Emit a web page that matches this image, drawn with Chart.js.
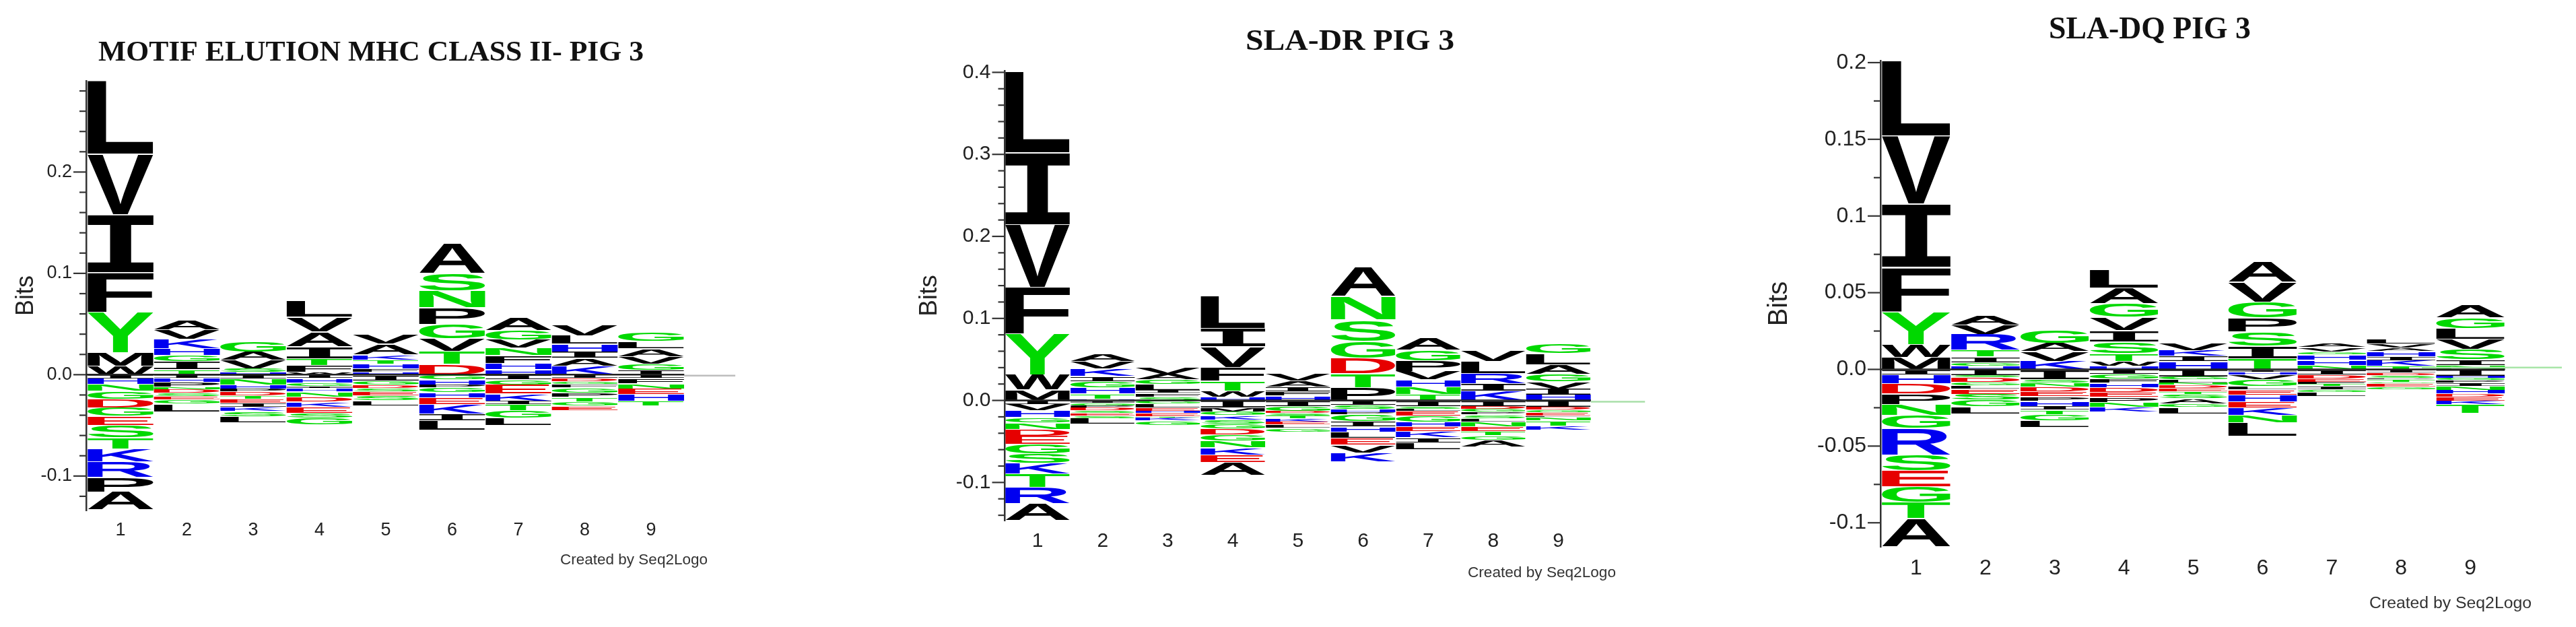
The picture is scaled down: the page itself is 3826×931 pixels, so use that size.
<!DOCTYPE html>
<html>
<head>
<meta charset="utf-8">
<title>Seq2Logo motifs PIG 3</title>
<script src="https://cdn.jsdelivr.net/npm/chart.js@4"></script>
<style>
  html, body { margin: 0; padding: 0; background: #fff; }
  canvas { position: absolute; top: 0; }
</style>
</head>
<body>
<canvas id="logoAll"></canvas>
<canvas id="logoDr"></canvas>
<canvas id="logoDq"></canvas>
<script>
// Values. Each stack runs from the zero line outwards.
const positions = ['1', '2', '3', '4', '5', '6', '7', '8', '9'];

const allTickLabels = ['-0.1', '0.0', '0.1', '0.2'];
const drTickLabels = ['-0.1', '0.0', '0.1', '0.2', '0.3', '0.4'];
const dqTickLabels = ['-0.1', '-0.05', '0.0', '0.05', '0.1', '0.15', '0.2'];

// MOTIF ELUTION
const allUpLetters = ['WMYFIVL', 'TIGHKVA', 'HSVAG', 'WFTIAVL', 'HFHTKAV', 'DTVGPNSA', 'HHFNVGA', 'KAIHLV', 'IGVALG'];
const allUpBits = [
  [.0088, .0132, .0395, .0395, .057, .0595, .0725],
  [.0049, .0084, .006, .0066, .0089, .0095, .0093],
  [.0022, .0038, .0082, .0084, .01],
  [.0024, .0066, .0071, .0117, .0148, .0144, .0163],
  [.0024, .0033, .0051, .0038, .0051, .0104, .0095],
  [.0104, .0124, .0128, .0144, .0162, .0166, .0171, .0299],
  [.0051, .0062, .0075, .0073, .008, .0097, .0128],
  [.0084, .0078, .0062, .0078, .0082, .0106],
  [.0047, .0058, .0075, .0078, .0071, .0089]
];
const allDownLetters = ['IHNGDGESTKRPA', 'IHPNDSEGL', 'INHPDTEIKSL', 'IHGIHNDKESG', 'IGDSESL', 'GHPGHEKIL', 'IGEKITGL', 'IDGFGPTGE', 'IFNEHT'];
const allDownBits = [
  [.004, .0055, .0066, .008, .0086, .0084, .0086, .0122, .0111, .0128, .0155, .0146, .0175],
  [.0035, .0038, .0051, .0022, .0038, .0033, .0033, .004, .0075],
  [.004, .006, .004, .0029, .0038, .0035, .0038, .004, .0042, .0049, .0062],
  [.0038, .0044, .0031, .0022, .0035, .0049, .0049, .0051, .006, .0047, .0071],
  [.006, .0044, .0033, .0033, .0038, .0049, .0047],
  [.0047, .0051, .0031, .0047, .0051, .0066, .0093, .0066, .0093],
  [.0049, .0051, .0089, .0069, .0038, .0058, .0075, .0073],
  [.0038, .0033, .0022, .0035, .0053, .0042, .0044, .0042, .0044],
  [.0038, .0053, .0047, .0055, .0066, .0049]
];

// SLA-DR
const drUpLetters = ['MWYFVIL', 'HTHGIKVA', 'SFILGAV', 'HWTFVIL', 'HFIAV', 'PTDGSNA', 'TNHVPGA', 'KIRLV', 'HIVGALG'];
const drUpBits = [
  [.0128, .0183, .05, .0567, .0769, .0878, .0986],
  [.002, .0065, .007, .0075, .0063, .009, .009, .009],
  [.0045, .0045, .0035, .0068, .006, .0071, .0082],
  [.0044, .0073, .0118, .0167, .0253, .0225, .04],
  [.0055, .0055, .0055, .0075, .0088],
  [.0156, .0172, .0188, .0205, .0262, .0284, .0363],
  [.0071, .0093, .0087, .0101, .0131, .0131, .015],
  [.0115, .009, .0123, .0147, .0139],
  [.0068, .0075, .0082, .0095, .0115, .0135, .0117]
];
const drDownLetters = ['IVHGNDEGSKTRA', 'IGPDSESL', 'GLEHETKG', 'IMGKSGDGNKEA', 'IGDSTKELG', 'ISHPGIHLEVK', 'ISLEGHEKIL', 'IDGPSLNETGA', 'IDGELNTK'];
const drDownBits = [
  [.005, .0077, .0082, .0066, .0077, .0082, .0101, .0112, .0115, .0131, .0164, .0202, .0207],
  [.003, .0035, .0027, .0035, .003, .003, .0035, .0068],
  [.004, .005, .004, .0025, .004, .002, .0035, .0055],
  [.009, .0047, .0048, .005, .005, .006, .0075, .0075, .0082, .0085, .0093, .016],
  [.007, .006, .003, .003, .0035, .0035, .0035, .0045, .0045],
  [.006, .005, .0035, .003, .008, .0065, .0065, .0075, .0085, .0095, .0105],
  [.007, .0035, .0025, .006, .007, .006, .006, .0075, .0062, .0085],
  [.007, .0036, .0036, .0033, .0045, .0045, .0058, .0058, .005, .0055, .0078],
  [.008, .0035, .0035, .0035, .002, .0045, .0065, .005]
];

// SLA-DQ
const dqUpLetters = ['MWYFIVL', 'HGITRVA', 'KVAG', 'HWTSIVGAL', 'HIKV', 'TISPGVA', 'NHHGVA', 'TKIHAVL', 'NISVLGA'];
const dqUpBits = [
  [.0078, .0086, .0212, .0289, .0413, .0444, .0491],
  [.0019, .0025, .0038, .0042, .0105, .0062, .006],
  [.0053, .0063, .0054, .0083],
  [.0022, .0032, .0052, .0075, .0072, .0086, .009, .0102, .0117],
  [.0052, .0035, .0037, .0048],
  [.0071, .008, .0093, .0091, .0105, .013, .0133],
  [.0028, .0034, .0035, .0018, .0028, .0026],
  [.0022, .0036, .0024, .0035, .0022, .0028, .0034],
  [.0027, .0036, .0067, .0067, .0071, .0071, .0086]
];
const dqDownLetters = ['IHDPNGRSEGTA', 'ISDGLESGL', 'ISNDEPHITGL', 'IGFHDEPNK', 'IGLNDETSAGL', 'IHVGLEHEKNL', 'IDEFTIGL', 'IDSPTGEG', 'IHGPINHDEKT'];
const dqDownBits = [
  [.0034, .0057, .0068, .0068, .0073, .0083, .0176, .0101, .0104, .0105, .0104, .0183],
  [.004, .0015, .003, .002, .0022, .0035, .0037, .0045, .0045],
  [.0065, .0025, .0025, .003, .003, .003, .0035, .0025, .003, .004, .0043],
  [.003, .0032, .0028, .0028, .0032, .0032, .0032, .0032, .0032],
  [.0048, .002, .002, .0015, .002, .0022, .0018, .0028, .0032, .0025, .0041],
  [.0018, .0018, .003, .0045, .0022, .0034, .0045, .0038, .005, .0048, .0088],
  [.0034, .0028, .0022, .0014, .0014, .0022, .0014, .0026],
  [.0022, .0018, .0016, .001, .0016, .0012, .0022, .0016],
  [.0043, .0015, .0015, .0015, .0022, .0025, .0025, .002, .0025, .0025, .0055]
];

// faint run of the zero line past the last position
const allTailX = [9.5, 10.27];
const allTailY = [-.001, -.001];
const drTailX = [9.5, 10.33];
const drTailY = [-.0016, -.0016];
const dqTailX = [8.3, 10.32];
const dqTailY = [.0012, .0012];

const letterColors = {
  A: '#000', V: '#000', L: '#000', I: '#000', M: '#000', F: '#000', P: '#000', W: '#000',
  G: '#00d800', S: '#00d800', T: '#00d800', Y: '#00d800', N: '#00d800', Q: '#00d800', C: '#00d800',
  K: '#0000f0', R: '#0000f0', H: '#0000f0',
  D: '#e60000', E: '#e60000'
};

// Turn the letter and bit lists into floating bar cells
function buildCells(letters, bits, sign) {
  const cells = [];
  letters.forEach((stack, p) => {
    let sum = 0;
    stack.split('').forEach((letter, i) => {
      const next = sum + bits[p][i];
      cells.push({ x: p + 1, y: [sign * sum, sign * next], letter: letter });
      sum = next;
    });
  });
  return cells;
}

const measureCtx = document.createElement('canvas').getContext('2d');
const glyphCache = {};

function glyphFont(letter) {
  // the I of the logo carries serifs
  return letter === 'I' ? 'bold 200px "Liberation Mono"' : 'bold 200px "Liberation Sans"';
}

function glyphBox(letter) {
  if (!glyphCache[letter]) {
    measureCtx.font = glyphFont(letter);
    const m = measureCtx.measureText(letter);
    glyphCache[letter] = {
      left: m.actualBoundingBoxLeft,
      width: m.actualBoundingBoxLeft + m.actualBoundingBoxRight,
      ascent: m.actualBoundingBoxAscent,
      height: m.actualBoundingBoxAscent + m.actualBoundingBoxDescent
    };
  }
  return glyphCache[letter];
}

// Stretches each letter into the box of its bar
const logoLetters = {
  id: 'logoLetters',
  beforeDatasetsDraw(chart) {
    const ctx = chart.ctx;
    const meta = chart.getDatasetMeta(0);
    const cells = chart.data.datasets[0].data;
    meta.data.forEach((bar, i) => {
      const p = bar.getProps(['x', 'y', 'base', 'width'], true);
      const top = Math.min(p.y, p.base) + 0.6;
      const h = Math.abs(p.base - p.y) - 1.2;
      if (h <= 0) return;
      const box = glyphBox(cells[i].letter);
      ctx.save();
      ctx.translate(p.x - p.width / 2, top);
      ctx.scale(p.width / box.width, h / box.height);
      ctx.font = glyphFont(cells[i].letter);
      ctx.textAlign = 'left';
      ctx.textBaseline = 'alphabetic';
      ctx.fillStyle = letterColors[cells[i].letter];
      ctx.fillText(cells[i].letter, box.left, box.ascent);
      ctx.restore();
    });
  }
};

// Long ticks under labels, short ones between them
const bitTicks = {
  id: 'bitTicks',
  afterDraw(chart) {
    const ctx = chart.ctx;
    const y = chart.scales.y;
    ctx.save();
    ctx.strokeStyle = '#333';
    ctx.lineWidth = 2.2;
    y.ticks.forEach(tick => {
      if (tick.value > y.max || tick.value < y.min) return;
      const py = y.getPixelForValue(tick.value);
      const len = tick.label ? 19 : 10;
      ctx.beginPath();
      ctx.moveTo(y.right - len, py);
      ctx.lineTo(y.right, py);
      ctx.stroke();
    });
    ctx.restore();
  }
};

// Panel heading and the program credit
const panelTexts = {
  id: 'panelTexts',
  afterDraw(chart, args, opts) {
    const ctx = chart.ctx;
    ctx.save();
    ctx.textBaseline = 'middle';
    ctx.textAlign = 'left';
    drawFitted(ctx, opts.title, 'bold ' + opts.titleSize + 'px "Liberation Serif"', '#111', opts.titleBox);
    drawFitted(ctx, 'Created by Seq2Logo', opts.creditSize + 'px "Liberation Sans"', '#333', opts.creditBox);
    ctx.restore();
  }
};

function drawFitted(ctx, text, font, color, box) {
  ctx.font = font;
  ctx.fillStyle = color;
  const w = ctx.measureText(text).width;
  ctx.save();
  ctx.translate(box.left, box.y);
  ctx.scale(box.width / w, 1);
  ctx.fillText(text, 0, 0);
  ctx.restore();
}

function tickText(value, labels) {
  const hit = labels.find(l => Math.abs(parseFloat(l) - value) < 1e-6);
  return hit === undefined ? '' : hit;
}

function drawLogo(id, panel) {
  const canvas = document.getElementById(id);
  canvas.width = panel.canvasRight - panel.canvasLeft;
  canvas.height = 931;
  canvas.style.left = panel.canvasLeft + 'px';

  const cells = buildCells(panel.upLetters, panel.upBits, 1)
    .concat(buildCells(panel.downLetters, panel.downBits, -1));
  const offsetBox = b => ({ left: b.left - panel.canvasLeft, width: b.width, y: b.y });
  const bitsLine = Math.round(panel.bitsSize * 1.2);

  return new Chart(canvas, {
    data: {
      datasets: [
        {
          type: 'bar',
          data: cells,
          grouped: false,
          barThickness: panel.columnWidth,
          backgroundColor: 'rgba(0,0,0,0)',
          borderWidth: 0
        },
        {
          type: 'line',
          data: [{ x: panel.xMin, y: 0 }, { x: 9.5, y: 0 }],
          borderColor: '#222',
          borderWidth: 2.5,
          pointRadius: 0
        },
        {
          type: 'line',
          data: panel.tailX.map((x, i) => ({ x: x, y: panel.tailY[i] })),
          borderColor: panel.tailColor,
          borderWidth: 2.5,
          pointRadius: 0
        }
      ]
    },
    options: {
      responsive: false,
      animation: false,
      layout: {
        padding: {
          left: 0,
          right: panel.canvasRight - panel.right,
          top: panel.top,
          bottom: 931 - panel.bottom - 60
        }
      },
      plugins: {
        legend: { display: false },
        tooltip: { enabled: false },
        panelTexts: {
          title: panel.title,
          titleSize: panel.titleSize,
          titleBox: offsetBox(panel.titleBox),
          creditSize: panel.creditSize,
          creditBox: offsetBox(panel.creditBox)
        }
      },
      scales: {
        x: {
          type: 'linear',
          offset: false,
          min: panel.xMin,
          max: panel.xMax,
          border: { display: false },
          grid: { display: false, offset: false, drawTicks: false },
          ticks: {
            stepSize: 1,
            includeBounds: false,
            autoSkip: false,
            maxRotation: 0,
            padding: panel.xLabelGap,
            color: '#222',
            font: { family: 'Liberation Sans', size: panel.tickSize },
            callback: value => positions[value - 1] || ''
          },
          afterFit(scale) { scale.height = 60; }
        },
        y: {
          type: 'linear',
          min: panel.yMin,
          max: panel.yMax,
          border: { display: true, color: '#333', width: 2.5 },
          grid: { display: false, drawTicks: false },
          title: {
            display: true,
            text: 'Bits',
            color: '#222',
            font: { family: 'Liberation Sans', size: panel.bitsSize, lineHeight: 1.2 },
            padding: { top: panel.bitsX - panel.canvasLeft - bitsLine / 2, bottom: 0 }
          },
          ticks: {
            stepSize: panel.yStep,
            includeBounds: false,
            autoSkip: false,
            padding: 21,
            color: '#222',
            font: { family: 'Liberation Sans', size: panel.tickSize },
            callback: value => tickText(value, panel.tickLabels)
          },
          afterFit(scale) { scale.width = panel.left - panel.canvasLeft; }
        }
      }
    },
    plugins: [logoLetters, bitTicks, panelTexts]
  });
}

drawLogo('logoAll', {
  title: 'MOTIF ELUTION MHC CLASS II- PIG 3',
  titleSize: 43, titleBox: { left: 146, width: 810, y: 79 },
  creditSize: 22.6, creditBox: { left: 832, width: 219, y: 832 },
  canvasLeft: 0, canvasRight: 1200,
  left: 128, right: 1093, top: 120, bottom: 758,
  xMin: 0.482, xMax: 10.279, yMin: -0.134, yMax: 0.29, yStep: 0.02,
  columnWidth: 98, tickSize: 27, bitsSize: 36, bitsX: 39, xLabelGap: 13,
  tickLabels: allTickLabels,
  upLetters: allUpLetters, upBits: allUpBits, downLetters: allDownLetters, downBits: allDownBits,
  tailX: allTailX, tailY: allTailY, tailColor: '#bdbdbd'
});

drawLogo('logoDr', {
  title: 'SLA-DR PIG 3',
  titleSize: 44, titleBox: { left: 1850, width: 310, y: 63 },
  creditSize: 22.6, creditBox: { left: 2180, width: 220, y: 851 },
  canvasLeft: 1340, canvasRight: 2560,
  left: 1492.5, right: 2444, top: 105, bottom: 773,
  xMin: 0.498, xMax: 10.338, yMin: -0.1465, yMax: 0.402, yStep: 0.02,
  columnWidth: 96, tickSize: 30, bitsSize: 37, bitsX: 1381, xLabelGap: 13,
  tickLabels: drTickLabels,
  upLetters: drUpLetters, upBits: drUpBits, downLetters: drDownLetters, downBits: drDownBits,
  tailX: drTailX, tailY: drTailY, tailColor: '#a8dfa8'
});

drawLogo('logoDq', {
  title: 'SLA-DQ PIG 3',
  titleSize: 46, titleBox: { left: 3043, width: 300, y: 45 },
  creditSize: 24.8, creditBox: { left: 3519, width: 241, y: 896 },
  canvasLeft: 2600, canvasRight: 3826,
  left: 2793, right: 3806, top: 90, bottom: 812,
  xMin: 0.485, xMax: 10.33, yMin: -0.1157, yMax: 0.2013, yStep: 0.025,
  columnWidth: 102, tickSize: 32, bitsSize: 40, bitsX: 2643, xLabelGap: 13,
  tickLabels: dqTickLabels,
  upLetters: dqUpLetters, upBits: dqUpBits, downLetters: dqDownLetters, downBits: dqDownBits,
  tailX: dqTailX, tailY: dqTailY, tailColor: '#a8e6a8'
});
</script>
</body>
</html>
